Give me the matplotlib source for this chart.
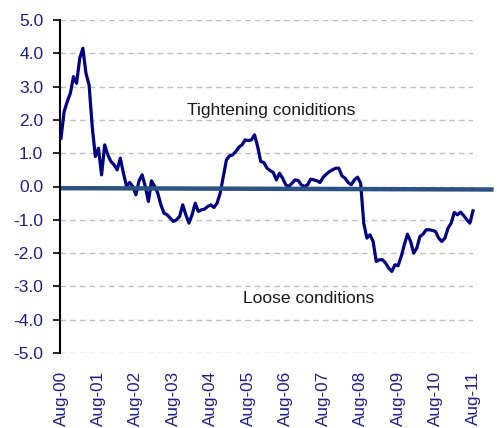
import numpy as np
import matplotlib
matplotlib.use("Agg")
import matplotlib.pyplot as plt

plt.rcParams['font.family'] = ['Liberation Sans', 'DejaVu Sans']

# Monthly index values, Aug-00 .. Aug-11
values = [
    1.45, 2.25, 2.55, 2.8, 3.3, 3.1, 3.85, 4.15, 3.4, 3.05,
    1.8, 0.9, 1.15, 0.35, 1.25, 0.95, 0.75, 0.65, 0.5, 0.85,
    0.4, 0.0, 0.12, 0.0, -0.25, 0.17, 0.35, 0.0, -0.45, 0.17,
    0.0, -0.2, -0.55, -0.8, -0.85, -0.95, -1.05, -1.0, -0.9, -0.55,
    -0.85, -1.1, -0.85, -0.5, -0.75, -0.7, -0.68, -0.6, -0.55, -0.63,
    -0.5, -0.2, 0.3, 0.8, 0.92, 0.95, 1.05, 1.18, 1.25, 1.4,
    1.38, 1.4, 1.55, 1.2, 0.75, 0.72, 0.55, 0.48, 0.42, 0.2,
    0.4, 0.25, 0.05, 0.0, 0.1, 0.2, 0.18, 0.05, 0.0, 0.05,
    0.22, 0.2, 0.17, 0.12, 0.28, 0.37, 0.45, 0.5, 0.55, 0.55,
    0.32, 0.25, 0.12, 0.05, 0.2, 0.28, 0.1, -1.1, -1.55, -1.45,
    -1.65, -2.25, -2.2, -2.2, -2.3, -2.45, -2.55, -2.35, -2.38, -2.1,
    -1.75, -1.43, -1.65, -2.0, -1.85, -1.5, -1.43, -1.3, -1.3, -1.32,
    -1.35, -1.55, -1.65, -1.55, -1.25, -1.1, -0.78, -0.85, -0.77, -0.87,
    -1.0, -1.1, -0.73,
]
tick_labels = ["Aug-00", "Aug-01", "Aug-02", "Aug-03", "Aug-04", "Aug-05",
               "Aug-06", "Aug-07", "Aug-08", "Aug-09", "Aug-10", "Aug-11"]
y_ticks = [5, 4, 3, 2, 1, 0, -1, -2, -3, -4, -5]
zero_line = [-0.05, -0.09]
annotations = [("Tightening coniditions", 40.3, 2.27), ("Loose conditions", 58.4, -3.35)]

W, H = 497, 428
fig = plt.figure(figsize=(W / 100, H / 100), dpi=100)
ax = fig.add_axes([60 / W, 1 - 353 / H, (473 - 60) / W, (353 - 20) / H])

x = np.arange(len(values))
ax.set_xlim(-0.32, 130.8)
ax.set_ylim(-5, 5)

for yv in y_ticks:
    ax.axhline(yv, color="#c0c0c0", lw=1.0, ls=(0, (4, 3)), zorder=1)

ax.plot(x, values, color="#000080", lw=2.3, zorder=3, clip_on=False,
        solid_joinstyle="round")
ax.plot([0, 138.6], zero_line, color="#2b5280", lw=3.2, zorder=4,
        clip_on=False, solid_capstyle="butt")

ax.set_yticks(y_ticks)
ax.set_yticklabels([f"{v:.1f}" for v in y_ticks])
ax.set_xticks(np.arange(0, 12) * 12)
ax.set_xticklabels(tick_labels, rotation=90)

ax.tick_params(axis="y", direction="out", length=5, width=1.2, color="black",
               labelsize=12.5, labelcolor="#1f1f8a", pad=7)
ax.tick_params(axis="x", length=0, labelsize=12.3, labelcolor="#1f1f8a", pad=13)

for s in ["top", "right", "bottom"]:
    ax.spines[s].set_visible(False)
ax.spines["left"].set_color("black")
ax.spines["left"].set_linewidth(1.5)

for txt, tx, ty in annotations:
    ax.text(tx, ty, txt, fontsize=12.6, color="#1a1a1a", ha="left", va="center")

fig.savefig("out.png", dpi=100)
